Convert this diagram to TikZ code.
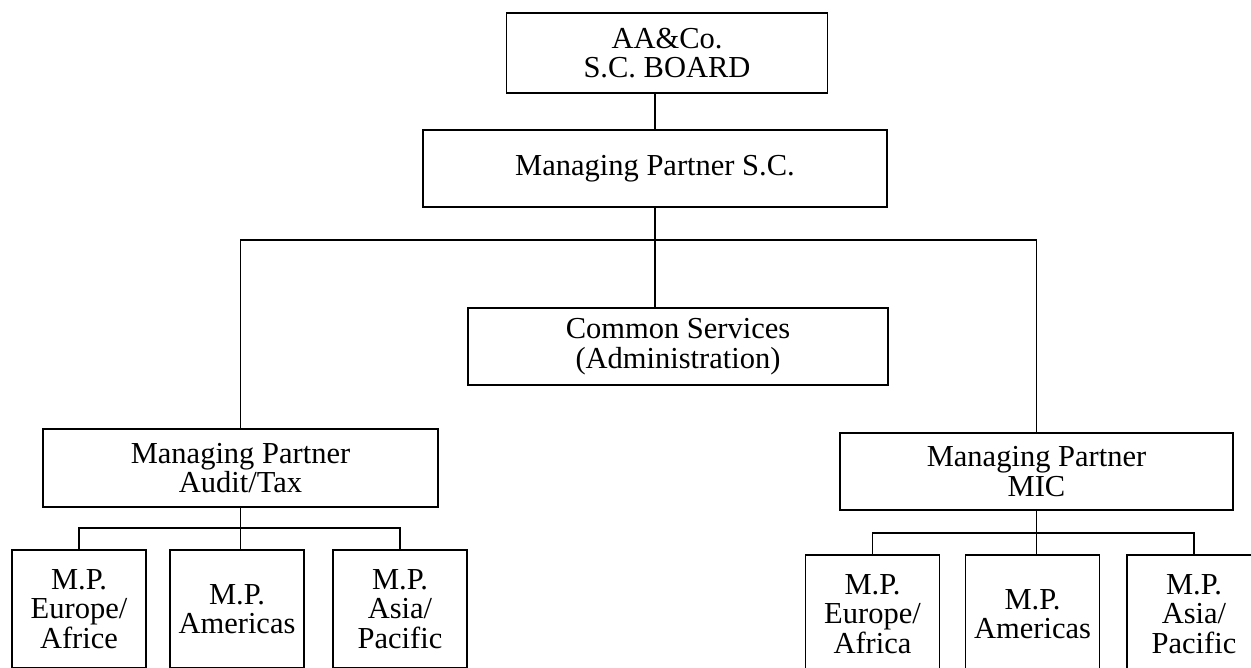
\documentclass[tikz,border=0pt]{standalone}
\usepackage{fontspec}
\setmainfont{Liberation Serif}

\begin{document}
\begin{tikzpicture}[x=1pt,y=-1pt,
  box/.style={draw,line width=1.2pt,align=center,inner sep=0pt,
    font=\fontsize{30.5}{29.5}\selectfont},
  unit/.style={box,minimum width=134pt,minimum height=118pt},
  link/.style={line width=1.2pt}]
  \useasboundingbox (0,0) rectangle (1251,668);
  \clip (0,0) rectangle (1251,668);
  % top of the chart
  \node[box,minimum width=321pt,minimum height=80pt] (board) at (667,53) {AA\&Co.\\S.C. BOARD};
  \node[box,minimum width=464pt,minimum height=77pt] (mpsc) at (655,168.5) {Managing Partner S.C.};
  \node[box,minimum width=420pt,minimum height=77pt] (common) at (678,346.5) {Common Services\\(Administration)};
  \node[box,minimum width=395pt,minimum height=78pt] (audit) at (240.5,468) {Managing Partner\\Audit/Tax};
  \node[box,minimum width=393pt,minimum height=77pt] (mic) at (1036.5,471.5) {Managing Partner\\MIC};
  % regions under audit/tax
  \node[unit] (eu1) at (79,609) {M.P.\\Europe/\\Africe};
  \node[unit] (am1) at (237,609) {M.P.\\Americas};
  \node[unit] (ap1) at (400,609) {M.P.\\Asia/\\Pacific};
  % regions under MIC
  \node[unit] (eu2) at (872.5,614) {M.P.\\Europe/\\Africa};
  \node[unit] (am2) at (1032.5,614) {M.P.\\Americas};
  \node[unit] (ap2) at (1194,614) {M.P.\\Asia/\\Pacific};
  \coordinate (hub) at (655,240);
  \coordinate (sub1) at (237,528);
  \coordinate (sub2) at (1035,533);
  \draw[link] (mpsc.north) -- (mpsc.north |- board.south);
  \draw[link] (mpsc.south) -- (mpsc.south |- common.north);
  \draw[link] (audit.north) |- (hub) -| (mic.north);
  \draw[link] (audit.south) -- (audit.south |- am1.north);
  \draw[link] (eu1.north) |- (sub1) -| (ap1.north);
  \draw[link] (mic.south) -- (mic.south |- am2.north);
  \draw[link] (eu2.north) |- (sub2) -| (ap2.north);
\end{tikzpicture}
\end{document}
